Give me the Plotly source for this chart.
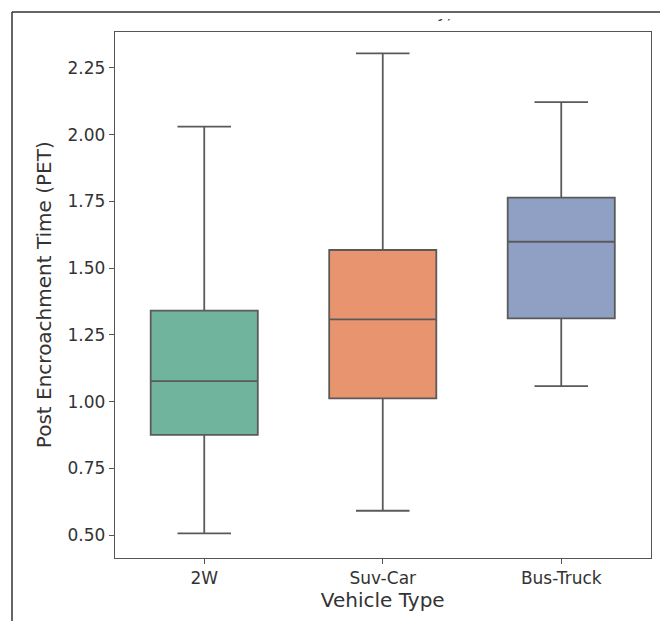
import plotly.graph_objects as go

categories = ["2W", "Suv-Car", "Bus-Truck"]
lower_whisker = [0.506, 0.591, 1.058]
q1_values = [0.875, 1.012, 1.312]
median_values = [1.077, 1.308, 1.599]
q3_values = [1.341, 1.568, 1.764]
upper_whisker = [2.030, 2.305, 2.122]
box_colors = ["#70b49d", "#e8946f", "#8fa0c4"]
y_ticks = [0.50, 0.75, 1.00, 1.25, 1.50, 1.75, 2.00, 2.25]

W, H = 660, 621
def px_x(p):
    return p / W
def px_y(p):
    return 1 - p / H

fig = go.Figure()
for i, cat in enumerate(categories):
    fig.add_trace(go.Box(
        x=[cat], q1=[q1_values[i]], median=[median_values[i]], q3=[q3_values[i]],
        lowerfence=[lower_whisker[i]], upperfence=[upper_whisker[i]],
        fillcolor=box_colors[i], line=dict(color="#5a5a5a", width=1.8),
        width=0.6, whiskerwidth=0.5, boxpoints=False, showlegend=False,
        hoverinfo="skip",
    ))

# clipped fragment of the cut-off title
fig.add_trace(go.Scatter(
    x=[0.5], y=[1.6], mode="text", text=["y)"], textposition="middle center",
    textfont=dict(family="DejaVu Sans", size=16, color="#333333"),
    xaxis="x2", yaxis="y2", cliponaxis=True, showlegend=False, hoverinfo="skip",
))

axis_common = dict(
    showline=True, linecolor="#555555", linewidth=1.2, mirror=True,
    ticks="outside", ticklen=5, tickwidth=1, tickcolor="#555555",
    showgrid=False, zeroline=False,
    tickfont=dict(family="DejaVu Sans", size=17, color="#333333"),
)

fig.update_layout(
    width=W, height=H,
    margin=dict(l=0, r=0, t=0, b=0),
    paper_bgcolor="white", plot_bgcolor="rgba(0,0,0,0)",
    boxmode="overlay",
    xaxis=dict(
        **axis_common,
        domain=[px_x(115), px_x(650.5)],
        range=[-0.5, 2.5],
        type="category",
        title=dict(text="Vehicle Type", font=dict(family="DejaVu Sans", size=20, color="#333333"), standoff=4),
    ),
    yaxis=dict(
        **axis_common,
        domain=[px_y(557.7), px_y(31.7)],
        range=[0.415, 2.386],
        tickvals=y_ticks, tickformat=".2f",
        title=dict(text="Post Encroachment Time (PET)", font=dict(family="DejaVu Sans", size=20, color="#333333"), standoff=10),
    ),
    xaxis2=dict(domain=[px_x(400), px_x(490)], range=[0, 1], visible=False, anchor="y2", fixedrange=True),
    yaxis2=dict(domain=[px_y(28), px_y(19)], range=[0, 1], visible=False, anchor="x2", fixedrange=True),
    shapes=[
        dict(type="line", xref="paper", yref="paper", x0=px_x(12), x1=1, y0=px_y(12), y1=px_y(12),
             line=dict(color="#333333", width=1.5)),
        dict(type="line", xref="paper", yref="paper", x0=px_x(12), x1=px_x(12), y0=0, y1=px_y(12),
             line=dict(color="#333333", width=1.5)),
    ],
)

fig.write_html(
    "out.html",
    config={"displayModeBar": False, "staticPlot": True},
    post_script="document.body.style.margin='0';document.body.style.padding='0';document.body.style.overflow='hidden';",
)
